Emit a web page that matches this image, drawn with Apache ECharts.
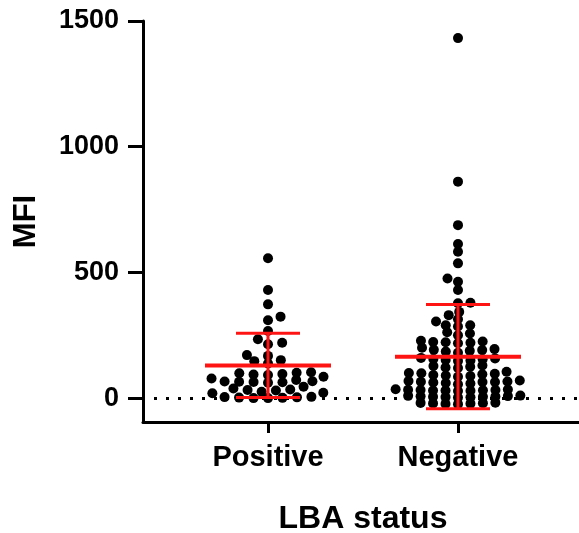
<!DOCTYPE html>
<html><head><meta charset="utf-8">
<script src="https://cdn.jsdelivr.net/npm/echarts@6/dist/echarts.min.js"></script>
<style>html,body{margin:0;padding:0;background:#fff}#c{width:579px;height:533px}</style>
</head><body><div id="c"></div>
<script>
const categories = ['Positive', 'Negative'];
const positiveValues = [556, 430, 373, 324, 310, 267, 234, 214, 220, 171, 151, 168, 147, 138,
  101, 94, 96, 92, 103, 85, 99, 78,
  65, 63, 67, 66, 64, 72, 61, 45,
  32, 30, 38, 25, 19, 34, 21,
  0, 2, 5, 1, 3, 0, 4];
const negativeValues = [1432, 861, 688, 613, 582, 536, 476, 463, 430, 379, 377, 343, 330, 314, 305,
  290, 290, 285,
  257, 262, 250,
  223, 225, 220, 228, 218, 222,
  191, 195, 188, 200, 192, 185, 180,
  155, 150, 160, 152, 158, 148, 156,
  125, 128, 122, 130, 120,
  92, 100, 105, 95, 90, 97, 99, 85, 88,
  64, 66, 62, 60, 70, 68, 55, 58, 65, 64,
  32, 30, 28, 35, 30, 33, 31, 34, 29, 32,
  8, 5, 3, 10, 6, 4, 7, 5, 9, 2,
  -20, -22, -19, -24, -21, -18, -23];
const groupMeans = [130, 165];
const groupSDs = [128, 207];
const yTicks = [0, 500, 1000, 1500];
const groupPositions = [1, 2];

const FONT = 'Liberation Sans, Arial, sans-serif';
const chart = echarts.init(document.getElementById('c'), null, {renderer: 'canvas'});

function errorItem(params, api) {
  const x = api.value(0), m = api.value(1), s = api.value(2);
  const c = api.coord([x, m]);
  const t = api.coord([x, m + s]);
  const b = api.coord([x, m - s]);
  const st = {stroke: '#ff1414', lineWidth: 3};
  return {type: 'group', children: [
    {type: 'line', shape: {x1: c[0], y1: t[1], x2: c[0], y2: b[1]}, style: st},
    {type: 'line', shape: {x1: c[0] - 32, y1: t[1], x2: c[0] + 32, y2: t[1]}, style: st},
    {type: 'line', shape: {x1: c[0] - 32, y1: b[1], x2: c[0] + 32, y2: b[1]}, style: st},
    {type: 'line', shape: {x1: c[0] - 63, y1: c[1], x2: c[0] + 63, y2: c[1]}, style: {stroke: '#ff1414', lineWidth: 4}}
  ]};
}

const groups = [positiveValues, negativeValues];

const option = {
  animation: false,
  grid: {left: 143, top: 21, bottom: 111, right: -4, containLabel: false, outerBoundsMode: 'none'},
  xAxis: {
    type: 'value', min: 0.342, max: 2.658,
    splitLine: {show: false},
    axisLine: {show: true, onZero: false, lineStyle: {color: '#000', width: 3}},
    axisTick: {show: true, customValues: groupPositions, length: 11, lineStyle: {color: '#000', width: 3}},
    axisLabel: {customValues: groupPositions, formatter: v => categories[Math.round(v) - 1] || '',
      color: '#000', fontFamily: FONT, fontWeight: 'bold', fontSize: 29, margin: 21},
    name: 'LBA status', nameLocation: 'middle', nameGap: 81,
    nameTextStyle: {color: '#000', fontFamily: FONT, fontWeight: 'bold', fontSize: 32}
  },
  yAxis: {
    type: 'value', min: -95, max: 1500,
    splitLine: {show: false},
    axisLine: {show: true, onZero: false, lineStyle: {color: '#000', width: 3}},
    axisTick: {show: true, customValues: yTicks, length: 15, lineStyle: {color: '#000', width: 3}},
    axisLabel: {customValues: yTicks, formatter: v => String(v), color: '#000', fontFamily: FONT,
      fontWeight: 'bold', fontSize: 27, margin: 24},
    name: 'MFI', nameLocation: 'middle', nameRotate: 90, nameGap: 101,
    nameTextStyle: {color: '#000', fontFamily: FONT, fontWeight: 'bold', fontSize: 31}
  },
  series: [
    {type: 'scatter', name: categories[0], symbolSize: 10, itemStyle: {color: '#000', opacity: 1}, z: 3,
      data: positiveValues.map(v => [groupPositions[0], v]),
      markLine: {silent: true, symbol: 'none', label: {show: false}, z: 1,
        lineStyle: {color: '#000', width: 3, type: [3, 9], dashOffset: 1},
        data: [{yAxis: 0}]}},
    {type: 'scatter', name: categories[1], symbolSize: 10, itemStyle: {color: '#000', opacity: 1}, z: 3,
      data: negativeValues.map(v => [groupPositions[1], v])},
    {type: 'custom', z: 5, renderItem: errorItem,
      data: groupPositions.map((p, i) => [p, groupMeans[i], groupSDs[i]])}
  ]
};
chart.setOption(option);

// beeswarm layout (elliptical collision: dots may overlap vertically), computed from the library's scale
function swarm(pys, SX, SY) {
  const idx = pys.map((y, i) => i).sort((a, b) => pys[b] - pys[a]);
  const placed = [];
  const dx = new Array(pys.length).fill(0);
  let k = 0;
  const hit = (p, x, y) => ((p.x - x) / SX) ** 2 + ((p.y - y) / SY) ** 2 < 1 - 1e-6;
  for (const i of idx) {
    const y = pys[i];
    const near = placed.filter(p => Math.abs(p.y - y) < SY);
    const cands = [0];
    for (const p of near) {
      const h = SX * Math.sqrt(1 - ((p.y - y) / SY) ** 2);
      cands.push(p.x + h, p.x - h);
    }
    const flip = (k++ % 2) ? 1 : -1;
    cands.sort((a, b) => (Math.abs(a) - Math.abs(b)) || (a - b) * flip);
    let best = 0;
    for (const c of cands) {
      if (!near.some(p => hit(p, c, y))) { best = c; break; }
    }
    placed.push({x: best, y});
    dx[i] = best;
  }
  return dx;
}
const p1 = chart.convertToPixel({xAxisIndex: 0, yAxisIndex: 0}, [1, 0]);
const p2 = chart.convertToPixel({xAxisIndex: 0, yAxisIndex: 0}, [2, 0]);
const pxPerUnit = p2[0] - p1[0];
const spacingX = [14.5, 12.5];
const spacingY = [7, 6];
const newData = groups.map((vals, g) => {
  const pys = vals.map(v => chart.convertToPixel({xAxisIndex: 0, yAxisIndex: 0}, [groupPositions[g], v])[1]);
  const dx = swarm(pys, spacingX[g], spacingY[g]);
  return vals.map((v, i) => [groupPositions[g] + dx[i] / pxPerUnit, v]);
});
chart.setOption({series: [{data: newData[0]}, {data: newData[1]}]});
</script>
</body></html>
